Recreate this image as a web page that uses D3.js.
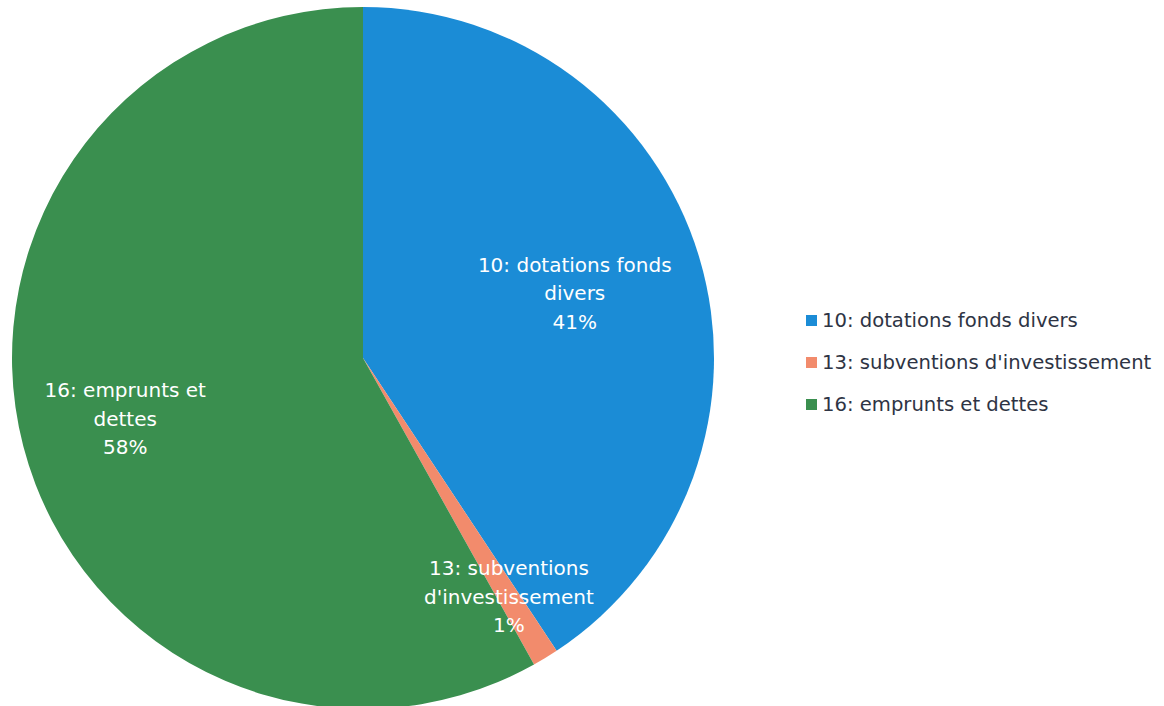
<!DOCTYPE html>
<html>
<head>
<meta charset="utf-8">
<script src="https://cdn.jsdelivr.net/npm/d3@7"></script>
<style>
  body { margin: 0; background: #fff; }
</style>
</head>
<body>
<div id="chart"></div>
<script>
// data
const categories = ["10: dotations fonds divers", "13: subventions d'investissement", "16: emprunts et dettes"];
const labelLines = [["10: dotations fonds", "divers"], ["13: subventions", "d'investissement"], ["16: emprunts et", "dettes"]];
const shares = [40.7, 1.2, 58.1];
const colours = ["#1b8cd6", "#f28b6c", "#3a8f4f"];
// how far out each slice label sits (fraction of radius)
const labelRadius = [0.63, 0.80, 0.70];

const sizes = {width: 1164, height: 706, cx: 363, cy: 358, r: 351};

const svg = d3.select("#chart").append("svg")
  .attr("width", sizes.width)
  .attr("height", sizes.height)
  .attr("viewBox", `0 0 ${sizes.width} ${sizes.height}`);

const pie = d3.pie().sort(null).value(d => d)(shares);
const arc = d3.arc().innerRadius(0).outerRadius(sizes.r);

const g = svg.append("g").attr("transform", `translate(${sizes.cx},${sizes.cy})`);

g.selectAll("path")
  .data(pie)
  .enter()
  .append("path")
    .attr("d", arc)
    .attr("fill", (d, i) => colours[i]);

// labels inside slices
pie.forEach((d, i) => {
  const a = (d.startAngle + d.endAngle) / 2;
  const rr = sizes.r * labelRadius[i];
  const x = Math.sin(a) * rr, y = -Math.cos(a) * rr;
  const lines = labelLines[i].concat([`${Math.round(shares[i])}%`]);
  const t = g.append("text")
    .attr("x", x)
    .attr("y", y - (lines.length - 1) * 28.5 / 2)
    .style("text-anchor", "middle")
    .style("dominant-baseline", "middle")
    .style("font-size", "20px")
    .style("font-family", "'DejaVu Sans', sans-serif")
    .style("fill", "#fff");
  lines.forEach((l, j) => {
    t.append("tspan").attr("x", x).attr("dy", j === 0 ? 0 : 28.5).text(l);
  });
});

// legend
const legend = svg.append("g").attr("transform", "translate(806,321)");
categories.forEach((c, i) => {
  const row = legend.append("g").attr("transform", `translate(0,${i * 42})`);
  row.append("rect")
    .attr("x", 0).attr("y", -6)
    .attr("width", 11).attr("height", 11)
    .attr("fill", colours[i]);
  row.append("text")
    .text(c)
    .attr("x", 16)
    .attr("y", 0)
    .style("dominant-baseline", "middle")
    .style("font-size", "19.6px")
    .style("font-family", "'DejaVu Sans', sans-serif")
    .style("fill", "#2e3444");
});
</script>
</body>
</html>
